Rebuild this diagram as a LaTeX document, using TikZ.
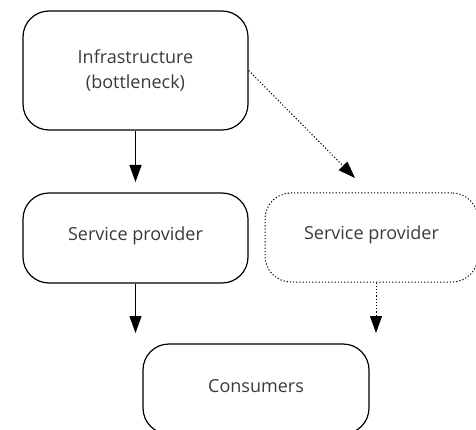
\documentclass[tikz,border=0pt]{standalone}
\usepackage{fontspec}
\setmainfont{Open Sans}
\usetikzlibrary{arrows.meta}
\definecolor{cText}{HTML}{3A3A3A}
\tikzset{
  blk/.style={draw=black, line width=1.2pt, rounded corners=26pt, align=center,
    text=cText, font=\fontsize{18}{25}\selectfont, inner sep=0pt},
  blkdot/.style={blk, dotted, line width=1pt},
  flow/.style={line width=1.2pt, -{Triangle[length=17pt,width=12pt]}},
  flowdot/.style={flow, dotted, line width=1pt},
}
\begin{document}
\begin{tikzpicture}[x=1pt, y=-1pt]
\useasboundingbox (0,0) rectangle (476,430);
\clip (0,0) rectangle (476,430);
% boxes
\node[blk, minimum width=225pt, minimum height=119pt] (infra) at (135.5,70.5) {Infrastructure\\(bottleneck)};
\node[blk, minimum width=225pt, minimum height=90pt, text depth=9pt] (prov) at (135.5,238) {Service provider};
\node[blkdot, minimum width=213pt, minimum height=89pt, text depth=9pt] (provalt) at (371.5,237.5) {Service provider};
\node[blk, minimum width=226pt, minimum height=90pt, text depth=7pt] (cons) at (256,389) {Consumers};
% arrow ends
\coordinate (tipA) at (355,178);
\coordinate (tipB) at (135.5,333);
\coordinate (tipC) at (376,333);
% arrows
\draw[flow] (infra.south) -- (infra.south |- 0,182);
\draw[flowdot] (infra.east) -- (tipA);
\draw[flow] (prov.south) -- (tipB);
\draw[flowdot] (provalt.south -| tipC) -- (tipC);
\end{tikzpicture}
\end{document}
